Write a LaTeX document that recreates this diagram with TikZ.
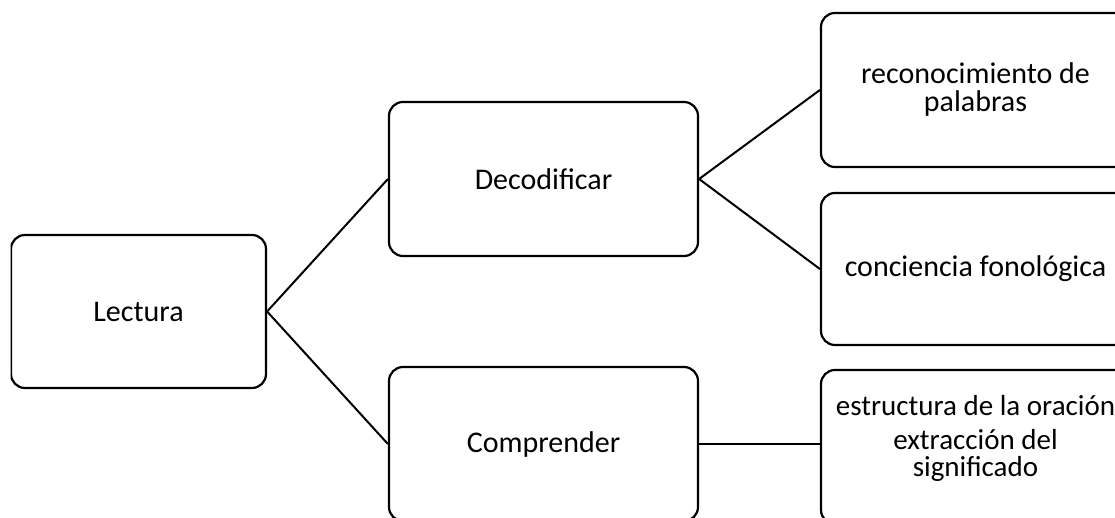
\documentclass[tikz,border=0pt]{standalone}
\usepackage{fontspec}
\setmainfont{Carlito}
\begin{document}
\begin{tikzpicture}[x=1pt,y=-1pt,
  box/.style={draw=black, line width=2.2pt, rounded corners=14pt, fill=white,
    rectangle, inner sep=0pt, align=center,
    font=\fontsize{30}{28}\selectfont},
  link/.style={draw=black, line width=2pt}]
  \useasboundingbox (0,0) rectangle (1115,518);
  \clip (10.5,0) rectangle (1115,518);

  % root
  \node[box, minimum width=255pt, minimum height=153pt] (lect) at (138.5,311.5) {Lectura};

  % second level
  \node[box, minimum width=309pt, minimum height=154pt] (deco) at (543.5,179) {Decodificar};
  \node[box, minimum width=309pt, minimum height=154pt] (comp) at (543.5,444) {Comprender};

  % third level
  \node[box, minimum width=309pt, minimum height=154pt] (reco) at (975.5,90) {reconocimiento de\\palabras};
  \node[box, minimum width=309pt, minimum height=152pt] (conc) at (975.5,269) {conciencia fonológica};
  \node[box, minimum width=309pt, minimum height=154pt, text depth=22pt,
        font=\fontsize{29}{27}\selectfont] (estr) at (975.5,447)
    {estructura de la oración\\[7pt]extracción del\\significado};

  % connectors
  \draw[link] (lect.east) -- (deco.west);
  \draw[link] (lect.east) -- (comp.west);
  \draw[link] (deco.east) -- (reco.west);
  \draw[link] (deco.east) -- (conc.west);
  \draw[link] (comp.east) -- (comp.east -| estr.west);
\end{tikzpicture}
\end{document}
